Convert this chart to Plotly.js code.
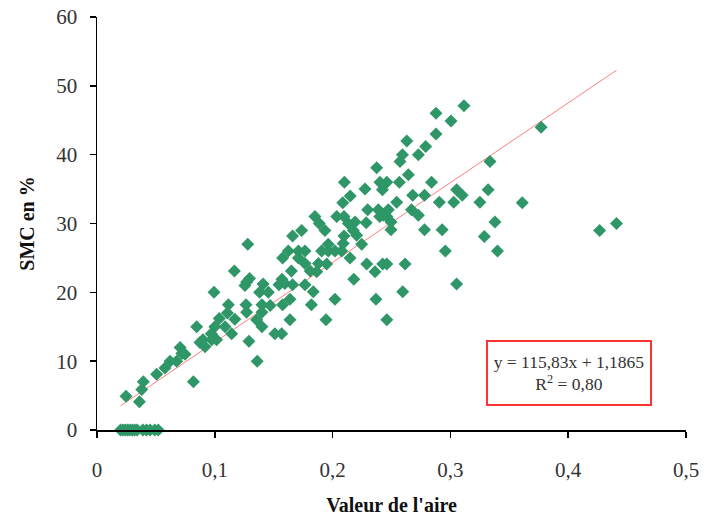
<!DOCTYPE html>
<html>
<head>
<meta charset="utf-8">
<script src="https://cdn.plot.ly/plotly-3.0.1.min.js"></script>
<style>html,body{margin:0;padding:0;background:#fff;}#chart{width:706px;height:519px;}</style>
</head>
<body>
<div id="chart"></div>
<script>
// Valeur de l'aire (x) and SMC en % (y)
const aire = [
0.020,0.022,0.024,0.026,0.028,0.030,0.032,0.034,0.039,0.042,0.045,0.049,0.052,
0.0246,0.036,0.038,0.0393,0.0506,0.0577,0.062,0.0676,0.0705,0.072,0.0747,0.0818,
0.0846,0.090,0.0917,0.0874,0.0974,0.1015,0.097,0.100,0.0993,0.1038,0.1087,0.1107,
0.1115,0.1143,0.117,0.1166,0.1256,0.127,0.1295,0.1265,0.127,0.128,0.129,0.1355,
0.136,0.138,0.141,0.1455,0.140,0.147,0.140,0.140,0.151,0.1568,0.1576,0.1545,0.157,
0.1595,0.1576,0.1624,0.1638,0.1638,0.165,0.166,0.166,0.171,0.171,0.1737,0.1766,
0.1766,0.1766,0.181,0.1865,0.182,0.1836,0.185,0.1887,0.188,0.195,0.1907,0.1935,
0.1944,0.1963,0.1963,0.202,0.202,0.2035,0.2077,0.2086,0.2097,0.2097,0.209,0.210,
0.2134,0.2148,0.215,0.2176,0.219,0.218,0.2204,0.2247,0.2275,0.2285,0.2298,0.229,
0.236,0.2368,0.2374,0.2388,0.240,0.2402,0.2423,0.2431,0.246,0.246,0.2473,0.2425,
0.246,0.246,0.2496,0.2496,0.2544,0.2567,0.2572,0.2593,0.2595,0.2615,0.263,0.2643,
0.267,0.268,0.2728,0.2728,0.278,0.278,0.279,0.284,0.2878,0.2878,0.2906,0.293,
0.2957,0.3005,0.3028,0.3053,0.3053,0.310,0.3115,0.325,0.3288,0.332,0.3336,0.3378,
0.340,0.361,0.377,0.4267,0.441
];
const smc = [
0,0,0,0,0,0,0,0,0,0,0,0,0,
4.9,4.1,5.9,7,8.1,9,10,10,12,11.1,11,7,
15,13.1,12.1,12.7,13.1,13.1,14,15,20,16.2,15,17,
18.2,14,16.1,23.1,21,21.5,22,18.2,17.1,27,12.9,16,
10,20,21.2,20,18.2,18.1,17.1,15,14,14,18.2,21.1,21.9,
21.3,25,26,19,16,23.1,21.1,28.2,25,26,29,26,
24.2,21.1,23.1,23,18.2,20.1,31,30,24.2,24.1,26,29,
16,27,26,19,26,31,26,33,31,28.2,27.1,36,
30,25,34,29,30.2,21.9,28.3,27,35,30.1,32,24.1,
23,19,38.1,32,31,36,34.9,31.2,36,31,32,24.1,
24.1,16,30.2,29.1,33.1,36,39,40,20.1,24.1,42,37.1,
32,34.1,40,31.2,34.1,29.1,41.2,36,46,43,33.1,29.1,
26,44.9,33.1,34.9,21.2,34.1,47.1,33.1,28.1,34.9,39,30.2,
26,33,44,29,30
];
// Linear regression shown on the chart
const slope = 115.83;
const intercept = 1.1865;
const r2Label = "0,80";
const eqLabel = "y = 115,83x + 1,1865";
const xTicks = [0, 0.1, 0.2, 0.3, 0.4, 0.5];
const xTickText = ["0", "0,1", "0,2", "0,3", "0,4", "0,5"];
const yTicks = [0, 10, 20, 30, 40, 50, 60];

const xmin = Math.min(...aire), xmax = Math.max(...aire);
const fitX = [xmin, xmax];
const fitY = fitX.map(v => slope * v + intercept);

const font = "Liberation Serif, Times New Roman, serif";

const traces = [
  {x: fitX, y: fitY, type: 'scatter', mode: 'lines',
   line: {color: '#ff7f7f', width: 1}, hoverinfo: 'skip', showlegend: false},
  {x: aire, y: smc, type: 'scatter', mode: 'markers', cliponaxis: false,
   marker: {symbol: 'diamond', size: 10, color: '#2f9767'}, showlegend: false}
];

const layout = {
  width: 706, height: 519,
  margin: {l: 97, r: 20, t: 17, b: 89},
  paper_bgcolor: '#fff', plot_bgcolor: '#fff',
  separators: ', ',
  font: {family: font, size: 17, color: '#222'},
  xaxis: {
    range: [0, 0.5], tickvals: xTicks, ticktext: xTickText,
    showgrid: false, zeroline: false,
    showline: true, linecolor: '#000', linewidth: 1.5,
    ticks: 'outside', ticklen: 6, tickwidth: 1.5, tickcolor: '#000',
    ticklabelstandoff: 14,
    tickfont: {family: font, size: 21, color: '#333'},
    title: {text: "<b>Valeur de l'aire</b>", font: {family: font, size: 20, color: '#111'}, standoff: 17}
  },
  yaxis: {
    range: [0, 60], tickvals: yTicks,
    showgrid: false, zeroline: false,
    showline: true, linecolor: '#000', linewidth: 1.5,
    ticks: 'outside', ticklen: 6, tickwidth: 1.5, tickcolor: '#000',
    ticklabelstandoff: 8,
    tickfont: {family: font, size: 21, color: '#333'},
    title: {text: "<b>SMC en %</b>", font: {family: font, size: 20, color: '#111'}, standoff: 16}
  },
  annotations: [{
    xref: 'paper', yref: 'paper', x: 0.801, y: 0.138,
    xanchor: 'center', yanchor: 'middle', showarrow: false, align: 'center',
    text: eqLabel + "<br>R<sup>2</sup> = " + r2Label,
    font: {family: font, size: 17.5, color: '#333'},
    width: 158, height: 58,
    bordercolor: '#ff3333', borderwidth: 2, borderpad: 2, bgcolor: '#fff'
  }]
};

Plotly.newPlot('chart', traces, layout, {displayModeBar: false, staticPlot: true});
</script>
</body>
</html>
